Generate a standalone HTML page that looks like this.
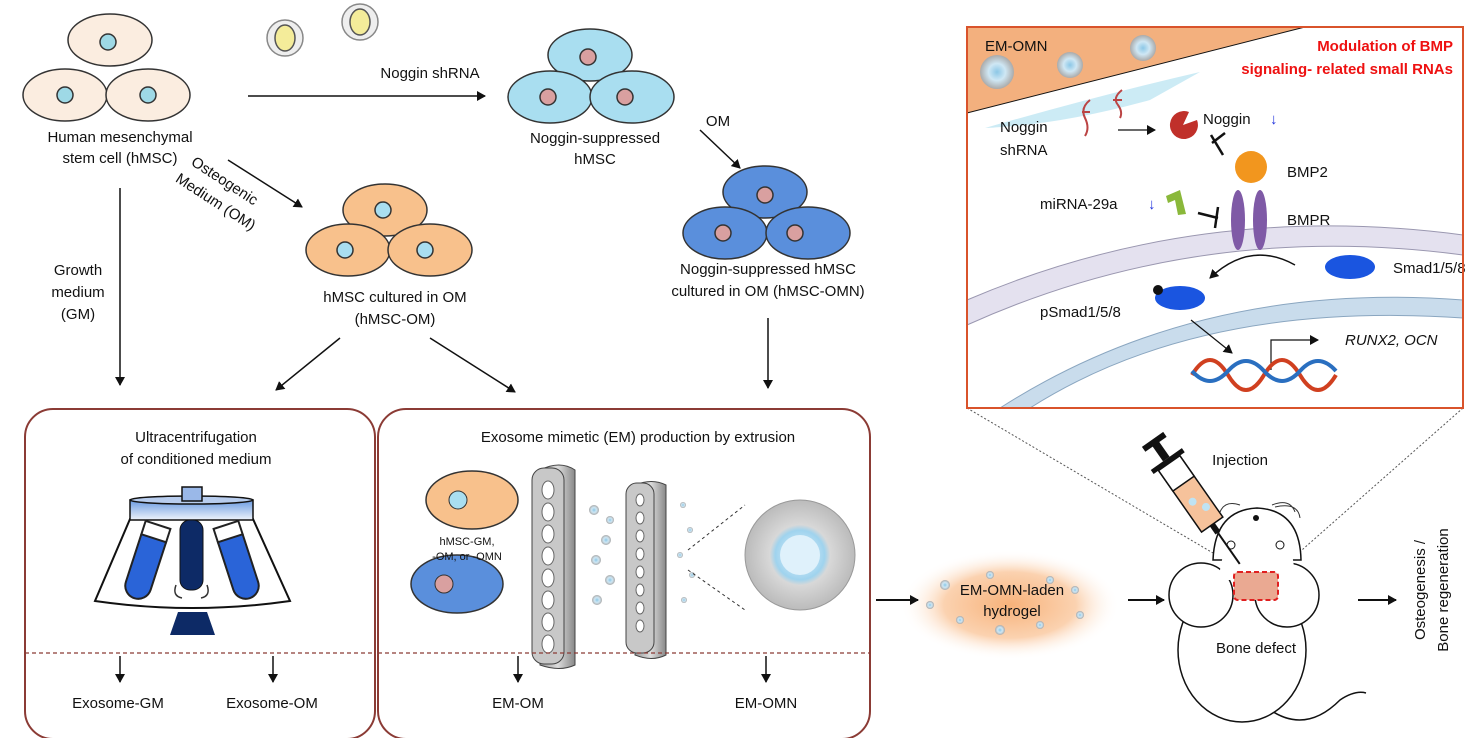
<!DOCTYPE html>
<html><head><meta charset="utf-8"><style>
html,body{margin:0;padding:0;background:#fff;}
svg{display:block;font-family:"Liberation Sans",Arial,sans-serif;}
text{font-size:15px;fill:#111;}
</style></head><body>
<svg width="1474" height="738" viewBox="0 0 1474 738" xmlns="http://www.w3.org/2000/svg">
<defs>
<marker id="ah" markerWidth="10" markerHeight="10" refX="8" refY="5" orient="auto" markerUnits="userSpaceOnUse"><path d="M0,0 L9,5 L0,10 Z" fill="#111"/></marker>
<radialGradient id="glow" cx="50%" cy="50%" r="50%"><stop offset="0" stop-color="#f7b27a"/><stop offset="0.6" stop-color="#fbd2b0"/><stop offset="1" stop-color="#fff" stop-opacity="0"/></radialGradient>
<radialGradient id="exo" cx="50%" cy="50%" r="50%"><stop offset="0" stop-color="#e8f4fb"/><stop offset="0.45" stop-color="#9fd3ee"/><stop offset="0.55" stop-color="#d8d8d8"/><stop offset="1" stop-color="#bbb"/></radialGradient>
<radialGradient id="sexo" cx="50%" cy="50%" r="50%"><stop offset="0" stop-color="#8cc7e6"/><stop offset="0.5" stop-color="#cfe7f4"/><stop offset="1" stop-color="#aaa"/></radialGradient>
<linearGradient id="disc" x1="0" x2="1"><stop offset="0" stop-color="#999"/><stop offset="0.5" stop-color="#ddd"/><stop offset="1" stop-color="#888"/></linearGradient>
<linearGradient id="rotor" x1="0" y1="0" x2="0" y2="1"><stop offset="0" stop-color="#6a9ae0"/><stop offset="1" stop-color="#eef3fb"/></linearGradient>
</defs>

<!-- Top-left beige cells -->
<g stroke="#333" stroke-width="1.5">
<ellipse cx="110" cy="40" rx="42" ry="26" fill="#fbede0"/><circle cx="108" cy="42" r="8" fill="#9ed9e6"/>
<ellipse cx="65" cy="95" rx="42" ry="26" fill="#fbede0"/><circle cx="65" cy="95" r="8" fill="#9ed9e6"/>
<ellipse cx="148" cy="95" rx="42" ry="26" fill="#fbede0"/><circle cx="148" cy="95" r="8" fill="#9ed9e6"/>
</g>
<text x="120" y="142" text-anchor="middle">Human mesenchymal</text>
<text x="120" y="163" text-anchor="middle">stem cell (hMSC)</text>

<!-- viruses -->
<g stroke="#a55" stroke-width="1.5">
<circle cx="285" cy="38" r="18" fill="#eee" stroke="#888"/><ellipse cx="285" cy="38" rx="10" ry="13" fill="#f4ec9a" stroke="#555"/>
<circle cx="360" cy="22" r="18" fill="#eee" stroke="#888"/><ellipse cx="360" cy="22" rx="10" ry="13" fill="#f4ec9a" stroke="#555"/>
</g>
<line x1="248" y1="96" x2="485" y2="96" stroke="#111" stroke-width="1.5" marker-end="url(#ah)"/>
<text x="430" y="78" text-anchor="middle">Noggin shRNA</text>

<!-- cyan cells -->
<g stroke="#333" stroke-width="1.5">
<ellipse cx="590" cy="55" rx="42" ry="26" fill="#a9def0"/><circle cx="588" cy="57" r="8" fill="#d9a0a0"/>
<ellipse cx="550" cy="97" rx="42" ry="26" fill="#a9def0"/><circle cx="548" cy="97" r="8" fill="#d9a0a0"/>
<ellipse cx="632" cy="97" rx="42" ry="26" fill="#a9def0"/><circle cx="625" cy="97" r="8" fill="#d9a0a0"/>
</g>
<text x="595" y="143" text-anchor="middle">Noggin-suppressed</text>
<text x="595" y="164" text-anchor="middle">hMSC</text>
<text x="718" y="126" text-anchor="middle">OM</text>
<line x1="700" y1="130" x2="740" y2="168" stroke="#111" stroke-width="1.5" marker-end="url(#ah)"/>

<!-- blue cells -->
<g stroke="#333" stroke-width="1.5">
<ellipse cx="765" cy="192" rx="42" ry="26" fill="#5a8fdc"/><circle cx="765" cy="195" r="8" fill="#d9a0a0"/>
<ellipse cx="725" cy="233" rx="42" ry="26" fill="#5a8fdc"/><circle cx="723" cy="233" r="8" fill="#d9a0a0"/>
<ellipse cx="808" cy="233" rx="42" ry="26" fill="#5a8fdc"/><circle cx="795" cy="233" r="8" fill="#d9a0a0"/>
</g>
<text x="768" y="274" text-anchor="middle">Noggin-suppressed hMSC</text>
<text x="768" y="296" text-anchor="middle">cultured in OM (hMSC-OMN)</text>

<!-- orange cells -->
<g stroke="#333" stroke-width="1.5">
<ellipse cx="385" cy="210" rx="42" ry="26" fill="#f8c18c"/><circle cx="383" cy="210" r="8" fill="#a9def0"/>
<ellipse cx="348" cy="250" rx="42" ry="26" fill="#f8c18c"/><circle cx="345" cy="250" r="8" fill="#a9def0"/>
<ellipse cx="430" cy="250" rx="42" ry="26" fill="#f8c18c"/><circle cx="425" cy="250" r="8" fill="#a9def0"/>
</g>
<text x="395" y="302" text-anchor="middle">hMSC cultured in OM</text>
<text x="395" y="324" text-anchor="middle">(hMSC-OM)</text>

<!-- osteogenic arrow -->
<line x1="228" y1="160" x2="302" y2="207" stroke="#111" stroke-width="1.5" marker-end="url(#ah)"/>
<text transform="translate(222,185) rotate(33)" text-anchor="middle">Osteogenic</text>
<text transform="translate(213,206) rotate(33)" text-anchor="middle">Medium (OM)</text>

<!-- GM arrow -->
<line x1="120" y1="188" x2="120" y2="385" stroke="#111" stroke-width="1.5" marker-end="url(#ah)"/>
<text x="78" y="275" text-anchor="middle">Growth</text>
<text x="78" y="297" text-anchor="middle">medium</text>
<text x="78" y="319" text-anchor="middle">(GM)</text>

<line x1="340" y1="338" x2="276" y2="390" stroke="#111" stroke-width="1.5" marker-end="url(#ah)"/>
<line x1="430" y1="338" x2="515" y2="392" stroke="#111" stroke-width="1.5" marker-end="url(#ah)"/>
<line x1="768" y1="318" x2="768" y2="388" stroke="#111" stroke-width="1.5" marker-end="url(#ah)"/>

<!-- Box 1 -->
<rect x="25" y="409" width="350" height="330" rx="28" fill="none" stroke="#8b3b35" stroke-width="2"/>
<text x="196" y="442" text-anchor="middle">Ultracentrifugation</text>
<text x="196" y="464" text-anchor="middle">of conditioned medium</text>
<path d="M130,519 L253,519 L290,601 Q192,615 95,601 Z" fill="#fff" stroke="#111" stroke-width="2"/>
<rect x="130" y="500" width="123" height="20" fill="url(#rotor)" stroke="#111" stroke-width="1.5"/>
<ellipse cx="191.5" cy="500" rx="61.5" ry="4" fill="#b8cdee" stroke="#111" stroke-width="1.5"/>
<rect x="182" y="487" width="20" height="14" fill="#9ab8e8" stroke="#111" stroke-width="1.5"/>
<rect x="180" y="520" width="23" height="70" rx="10" fill="#0d2a66" stroke="#111"/>
<path d="M176,585 Q172,596 182,598 M207,585 Q211,596 201,598" fill="none" stroke="#333" stroke-width="1.5"/>
<path d="M178,612 L207,612 L215,635 L170,635 Z" fill="#0d2a66"/>
<g transform="rotate(18 146 562)"><rect x="133" y="525" width="26" height="75" rx="13" fill="#2a64d8" stroke="#222" stroke-width="2"/><rect x="133" y="523" width="26" height="14" fill="#fff" stroke="#222" stroke-width="2"/></g>
<g transform="rotate(-18 238 562)"><rect x="225" y="525" width="26" height="75" rx="13" fill="#2a64d8" stroke="#222" stroke-width="2"/><rect x="225" y="523" width="26" height="14" fill="#fff" stroke="#222" stroke-width="2"/></g>
<line x1="25" y1="653" x2="375" y2="653" stroke="#8b3b35" stroke-width="1.2" stroke-dasharray="4,3"/>
<line x1="120" y1="656" x2="120" y2="682" stroke="#111" stroke-width="1.5" marker-end="url(#ah)"/>
<line x1="273" y1="656" x2="273" y2="682" stroke="#111" stroke-width="1.5" marker-end="url(#ah)"/>
<text x="118" y="708" text-anchor="middle">Exosome-GM</text>
<text x="272" y="708" text-anchor="middle">Exosome-OM</text>

<!-- Box 2 -->
<rect x="378" y="409" width="492" height="330" rx="28" fill="none" stroke="#8b3b35" stroke-width="2"/>
<text x="638" y="442" text-anchor="middle">Exosome mimetic (EM) production by extrusion</text>
<ellipse cx="472" cy="500" rx="46" ry="29" fill="#f8c18c" stroke="#333" stroke-width="1.5"/><circle cx="458" cy="500" r="9" fill="#a9def0" stroke="#333"/>
<ellipse cx="457" cy="584" rx="46" ry="29" fill="#5a8fdc" stroke="#333" stroke-width="1.5"/><circle cx="444" cy="584" r="9" fill="#d9a0a0" stroke="#333"/>
<text x="467" y="545" text-anchor="middle" style="font-size:11px">hMSC-GM,</text>
<text x="467" y="560" text-anchor="middle" style="font-size:11px">-OM, or -OMN</text>
<path d="M540,470 Q560,460 575,470 L575,665 Q560,672 540,665 Z" fill="url(#disc)" stroke="#444"/>
<rect x="532" y="468" width="32" height="196" rx="12" fill="#c8c8c8" stroke="#444"/>
<g fill="#fff" stroke="#666"><ellipse cx="548" cy="490" rx="6" ry="9"/><ellipse cx="548" cy="512" rx="6" ry="9"/><ellipse cx="548" cy="534" rx="6" ry="9"/><ellipse cx="548" cy="556" rx="6" ry="9"/><ellipse cx="548" cy="578" rx="6" ry="9"/><ellipse cx="548" cy="600" rx="6" ry="9"/><ellipse cx="548" cy="622" rx="6" ry="9"/><ellipse cx="548" cy="644" rx="6" ry="9"/></g>
<path d="M635,485 Q652,478 666,485 L666,655 Q652,662 635,655 Z" fill="url(#disc)" stroke="#444"/>
<rect x="626" y="483" width="28" height="170" rx="11" fill="#c8c8c8" stroke="#444"/>
<g fill="#fff" stroke="#666"><ellipse cx="640" cy="500" rx="4" ry="6"/><ellipse cx="640" cy="518" rx="4" ry="6"/><ellipse cx="640" cy="536" rx="4" ry="6"/><ellipse cx="640" cy="554" rx="4" ry="6"/><ellipse cx="640" cy="572" rx="4" ry="6"/><ellipse cx="640" cy="590" rx="4" ry="6"/><ellipse cx="640" cy="608" rx="4" ry="6"/><ellipse cx="640" cy="626" rx="4" ry="6"/></g>
<g fill="url(#sexo)"><circle cx="594" cy="510" r="5"/><circle cx="606" cy="540" r="5"/><circle cx="596" cy="560" r="5"/><circle cx="610" cy="580" r="5"/><circle cx="597" cy="600" r="5"/><circle cx="610" cy="520" r="4"/><circle cx="683" cy="505" r="3"/><circle cx="690" cy="530" r="3"/><circle cx="680" cy="555" r="3"/><circle cx="692" cy="575" r="3"/><circle cx="684" cy="600" r="3"/></g>
<line x1="688" y1="550" x2="745" y2="505" stroke="#333" stroke-dasharray="3,3"/>
<line x1="688" y1="570" x2="745" y2="610" stroke="#333" stroke-dasharray="3,3"/>
<circle cx="800" cy="555" r="55" fill="url(#exo)" stroke="#999"/>
<ellipse cx="800" cy="555" rx="20" ry="20" fill="#dff1fb"/>
<line x1="378" y1="653" x2="870" y2="653" stroke="#8b3b35" stroke-width="1.2" stroke-dasharray="4,3"/>
<line x1="518" y1="656" x2="518" y2="682" stroke="#111" stroke-width="1.5" marker-end="url(#ah)"/>
<line x1="766" y1="656" x2="766" y2="682" stroke="#111" stroke-width="1.5" marker-end="url(#ah)"/>
<text x="518" y="708" text-anchor="middle">EM-OM</text>
<text x="766" y="708" text-anchor="middle">EM-OMN</text>

<!-- hydrogel -->
<ellipse cx="1010" cy="605" rx="110" ry="55" fill="url(#glow)"/>
<g fill="url(#sexo)"><circle cx="945" cy="585" r="5"/><circle cx="990" cy="575" r="4"/><circle cx="1050" cy="580" r="4"/><circle cx="960" cy="620" r="4"/><circle cx="1000" cy="630" r="5"/><circle cx="1040" cy="625" r="4"/><circle cx="1080" cy="615" r="4"/><circle cx="1075" cy="590" r="4"/><circle cx="930" cy="605" r="4"/></g>
<text x="1012" y="595" text-anchor="middle">EM-OMN-laden</text>
<text x="1012" y="616" text-anchor="middle">hydrogel</text>
<line x1="876" y1="600" x2="918" y2="600" stroke="#111" stroke-width="2" marker-end="url(#ah)"/>
<line x1="1128" y1="600" x2="1164" y2="600" stroke="#111" stroke-width="2" marker-end="url(#ah)"/>
<line x1="1358" y1="600" x2="1396" y2="600" stroke="#111" stroke-width="2" marker-end="url(#ah)"/>
<text transform="translate(1425,590) rotate(-90)" text-anchor="middle">Osteogenesis /</text>
<text transform="translate(1448,590) rotate(-90)" text-anchor="middle">Bone regeneration</text>

<!-- dashed zoom lines -->
<line x1="967" y1="408" x2="1213" y2="553" stroke="#555" stroke-dasharray="2,2"/>
<line x1="1463" y1="408" x2="1277" y2="572" stroke="#555" stroke-dasharray="2,2"/>

<!-- mouse -->
<g fill="#fff" stroke="#111" stroke-width="1.5">
<path d="M1258,700 Q1300,740 1340,700 Q1355,690 1366,693" fill="none"/>
<ellipse cx="1242" cy="650" rx="64" ry="72"/>
<path d="M1213,560 Q1215,510 1257,508 Q1300,510 1301,560 Z"/>
<circle cx="1201" cy="595" r="32"/>
<circle cx="1287" cy="595" r="32"/>
</g>
<path d="M1226,540 L1290,540 L1296,580 L1218,580 Z" fill="#fff"/>
<circle cx="1231" cy="545" r="4" fill="none" stroke="#111"/>
<circle cx="1280" cy="545" r="4" fill="none" stroke="#111"/>
<circle cx="1256" cy="518" r="3" fill="#111"/>
<path d="M1240,505 Q1225,500 1220,512 M1272,505 Q1290,498 1295,512 M1275,507 Q1298,502 1300,518" fill="none" stroke="#333"/>
<rect x="1234" y="572" width="44" height="28" rx="4" fill="#eaa992" stroke="#e02020" stroke-width="2" stroke-dasharray="5,3"/>
<text x="1256" y="653" text-anchor="middle">Bone defect</text>
<text x="1240" y="465" text-anchor="middle">Injection</text>
<g transform="rotate(-35 1195 500)">
<rect x="1182" y="455" width="26" height="75" fill="#f6c29b" stroke="#111" stroke-width="1.5"/>
<rect x="1182" y="455" width="26" height="25" fill="#fff" stroke="#111" stroke-width="1.5"/>
<rect x="1176" y="450" width="38" height="5" fill="#111"/>
<rect x="1191" y="430" width="8" height="20" fill="#111"/>
<rect x="1182" y="426" width="26" height="6" fill="#111"/>
<rect x="1192" y="530" width="6" height="10" fill="#111"/>
<line x1="1195" y1="540" x2="1195" y2="578" stroke="#111" stroke-width="2"/>
<circle cx="1192" cy="500" r="4" fill="#bfe3f3"/><circle cx="1200" cy="512" r="4" fill="#bfe3f3"/>
</g>

<!-- Right panel -->
<rect x="967" y="27" width="496" height="381" fill="#fff"/>
<path d="M967,27 L1305,27 L967,113 Z" fill="#f3b07e" stroke="#111" stroke-width="1"/>
<path d="M985,128 Q1100,95 1200,72 L1150,100 Q1060,125 985,128 Z" fill="#bfe6f3" opacity="0.8"/>
<path d="M967,300 Q1200,200 1463,235 L1463,255 Q1200,220 967,325 Z" fill="#e4e1ef" stroke="#9a97b0"/>
<path d="M1000,408 Q1200,280 1463,300 L1463,318 Q1200,300 1030,408 Z" fill="#c9dcec" stroke="#8aa6c0"/>
<circle cx="997" cy="72" r="17" fill="url(#sexo)"/><circle cx="1070" cy="65" r="13" fill="url(#sexo)"/><circle cx="1143" cy="48" r="13" fill="url(#sexo)"/>
<text x="985" y="51" style="font-size:15px">EM-OMN</text>
<text x="1453" y="51" text-anchor="end" style="font-size:15px;font-weight:bold;fill:#e11">Modulation of BMP</text>
<text x="1453" y="74" text-anchor="end" style="font-size:15px;font-weight:bold;fill:#e11">signaling- related small RNAs</text>
<text x="1000" y="132">Noggin</text>
<text x="1000" y="155">shRNA</text>
<path d="M1085,118 Q1080,108 1090,100 M1082,112 L1090,112 M1085,118 Q1090,128 1085,136" stroke="#b44" stroke-width="2" fill="none"/>
<path d="M1118,105 Q1112,98 1122,90 M1113,100 L1122,100 M1118,105 Q1123,112 1120,118" stroke="#b44" stroke-width="2" fill="none"/>
<line x1="1118" y1="130" x2="1155" y2="130" stroke="#111" stroke-width="1.2" marker-end="url(#ah)"/>
<path d="M1197,120 A14,14 0 1,1 1189,112 L1183,125 Z" fill="#c0302a"/>
<text x="1203" y="124" style="font-size:15px">Noggin</text>
<text x="1270" y="124" style="font-size:15px;fill:#2233dd">↓</text>
<line x1="1212" y1="143" x2="1225" y2="133" stroke="#111" stroke-width="2.5"/>
<line x1="1211" y1="135" x2="1223" y2="155" stroke="#111" stroke-width="2.5"/>
<circle cx="1251" cy="167" r="16" fill="#f2961e"/>
<text x="1287" y="177" style="font-size:15px">BMP2</text>
<text x="1040" y="209" style="font-size:15px">miRNA-29a</text>
<text x="1148" y="209" style="font-size:15px;fill:#2233dd">↓</text>
<path d="M1166,196 L1180,190 L1186,214 L1178,215 L1175,200 L1168,203 Z" fill="#8ab83a"/>
<line x1="1198" y1="213" x2="1218" y2="218" stroke="#111" stroke-width="2.5"/>
<line x1="1218" y1="207" x2="1215" y2="228" stroke="#111" stroke-width="2.5"/>
<ellipse cx="1238" cy="220" rx="7" ry="30" fill="#7f5aa6"/>
<ellipse cx="1260" cy="220" rx="7" ry="30" fill="#7f5aa6"/>
<text x="1287" y="225" style="font-size:15px">BMPR</text>
<path d="M1295,265 Q1250,240 1210,278" fill="none" stroke="#111" stroke-width="1.5" marker-end="url(#ah)"/>
<ellipse cx="1350" cy="267" rx="25" ry="12" fill="#1a55e0"/>
<text x="1393" y="273" style="font-size:15px">Smad1/5/8</text>
<ellipse cx="1180" cy="298" rx="25" ry="12" fill="#1a55e0"/>
<circle cx="1158" cy="290" r="5" fill="#111"/>
<text x="1040" y="317" style="font-size:15px">pSmad1/5/8</text>
<line x1="1191" y1="320" x2="1232" y2="353" stroke="#111" stroke-width="1.2" marker-end="url(#ah)"/>
<path d="M1271,370 L1271,340 L1318,340" fill="none" stroke="#111" stroke-width="1.2" marker-end="url(#ah)"/>
<text x="1345" y="345" style="font-size:15px;font-style:italic">RUNX2, OCN</text>
<path d="M1192,375 Q1210,345 1228,375 T1264,375 T1300,375 T1336,375" fill="none" stroke="#d04020" stroke-width="4"/>
<path d="M1192,375 Q1210,395 1228,375 T1264,375 T1300,375 T1336,375" fill="none" stroke="#2a6fc0" stroke-width="4" transform="translate(0,-4)"/>
<rect x="967" y="27" width="496" height="381" fill="none" stroke="#d9532b" stroke-width="2"/>
</svg>
</body></html>
